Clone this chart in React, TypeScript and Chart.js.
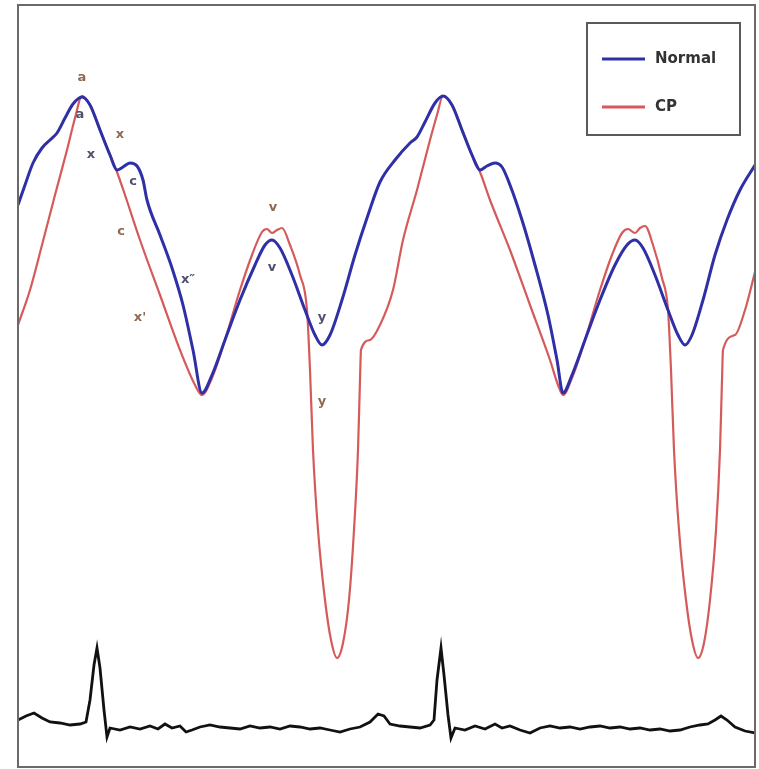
import React, { useEffect, useRef } from "react";
import { Chart, registerables } from "chart.js";

Chart.register(...registerables);

// Time axis (arbitrary units across two cardiac cycles) and pressure-like amplitude
const normalTime = [0,7,15,24,32,39,47,55,64,72,82,92,99,105,112,119,125,129,142,154,165,175,184,194,207,222,237,247,254,262,274,287,297,304,312,324,337,350,362,377,392,399,407,417,425,434,444,454,462,469,477,484,492,504,517,530,539,545,554,567,582,597,609,617,625,637,650,660,667,674,685,697,709,722,737];
const normalValues = [562,582,604,619,627,634,649,663,670,662,637,612,597,600,604,601,587,567,532,499,462,417,374,392,427,467,502,522,527,519,492,457,432,422,432,467,512,552,585,607,624,630,645,664,671,662,637,612,597,601,604,600,582,547,502,452,407,374,392,427,467,502,522,527,519,492,457,432,422,432,467,512,547,577,602];

const cpTime = [0,12,24,37,49,57,64,72,82,92,99,107,122,142,162,177,184,194,207,222,234,244,249,254,259,264,272,282,289,292,295,300,307,313,319,325,331,336,340,342,343,352,362,375,385,399,412,419,425,434,444,454,462,472,492,512,532,540,545,554,567,582,594,604,610,617,622,627,635,644,650,653,656,661,668,674,680,686,692,698,702,704,705,717,727,737];
const cpValues = [442,477,522,572,617,649,671,662,637,612,595,572,527,472,417,382,372,389,427,477,512,535,538,534,537,539,522,492,457,397,317,237,167,127,109,124,167,237,317,387,417,427,442,477,527,577,627,652,671,662,637,612,595,567,517,462,407,382,372,389,427,477,512,534,538,534,539,541,522,489,457,397,317,237,167,127,109,124,167,237,317,387,417,432,457,495];

const ecgTime = [0,8,16,24,32,42,52,62,68,72,76,79,82,86,89,92,102,112,122,132,140,147,154,162,168,174,182,192,202,212,222,232,242,252,262,272,282,292,302,312,322,332,342,352,360,366,372,382,392,402,412,416,419,423,426,430,433,437,447,457,467,477,484,492,502,512,522,532,542,552,562,572,582,592,602,612,622,632,642,652,662,672,682,690,697,703,709,717,727,737];
const ecgValues = [47,51,54,49,45,44,42,43,45,67,102,119,99,57,30,39,37,40,38,41,38,43,39,41,35,37,40,42,40,39,38,41,39,40,38,41,40,38,39,37,35,38,40,45,53,51,43,41,40,39,42,47,87,119,92,52,29,39,37,41,38,43,39,41,37,34,39,41,39,40,38,40,41,39,40,38,39,37,38,36,37,40,42,43,47,51,47,40,36,34];

const labelTexts = ["a","a","x","x","c","c","x\u2033","x'","v","v","y","y"];
const labelTime = [64,62,73,102,115,103,170,122,255,254,304,304];
const labelValues = [689,652,612,632,585,535,487,449,559,499,449,365];
const labelSeries = ["CP","Normal","Normal","CP","Normal","CP","Normal","CP","CP","Normal","Normal","CP"];

const seriesNames = ["Normal", "CP"];
const seriesColors = ["#2f2fa6", "#d55a5a"];

const zip = (xs: number[], ys: number[]) => xs.map((x, i) => ({ x, y: ys[i] }));

const framePlugin = {
  id: "framePlugin",
  afterDraw(chart: any) {
    const { ctx, chartArea } = chart;
    const xs = chart.scales.x;
    const ys = chart.scales.y;
    ctx.save();
    ctx.font = "bold 13px 'DejaVu Sans', sans-serif";
    ctx.textAlign = "center";
    ctx.textBaseline = "middle";
    labelTexts.forEach((t, i) => {
      ctx.fillStyle = labelSeries[i] === "CP" ? "#8f6a52" : "#505070";
      ctx.fillText(t, xs.getPixelForValue(labelTime[i]), ys.getPixelForValue(labelValues[i]));
    });
    ctx.strokeStyle = "#6a6a6a";
    ctx.lineWidth = 2;
    ctx.strokeRect(chartArea.left, chartArea.top, chartArea.right - chartArea.left, chartArea.bottom - chartArea.top);
    const bx = chartArea.right - 168;
    const by = chartArea.top + 18;
    const bw = 153;
    const bh = 112;
    ctx.fillStyle = "#ffffff";
    ctx.fillRect(bx, by, bw, bh);
    ctx.strokeStyle = "#5a5a5a";
    ctx.lineWidth = 2;
    ctx.strokeRect(bx, by, bw, bh);
    ctx.font = "bold 15px 'DejaVu Sans', sans-serif";
    ctx.textAlign = "left";
    seriesNames.forEach((name, i) => {
      const ly = by + 36 + i * 48;
      ctx.strokeStyle = seriesColors[i];
      ctx.lineWidth = 3;
      ctx.beginPath();
      ctx.moveTo(bx + 15, ly);
      ctx.lineTo(bx + 58, ly);
      ctx.stroke();
      ctx.fillStyle = "#333333";
      ctx.fillText(name, bx + 68, ly);
    });
    ctx.restore();
  },
};

export default function App() {
  const ref = useRef<HTMLCanvasElement | null>(null);
  useEffect(() => {
    document.body.style.margin = "0";
    if (!ref.current) return;
    const chart = new Chart(ref.current, {
      type: "line",
      data: {
        datasets: [
          {
            label: seriesNames[0],
            data: zip(normalTime, normalValues),
            borderColor: seriesColors[0],
            borderWidth: 3,
            pointRadius: 0,
            cubicInterpolationMode: "monotone",
            order: 1,
          },
          {
            label: seriesNames[1],
            data: zip(cpTime, cpValues),
            borderColor: seriesColors[1],
            borderWidth: 2.2,
            pointRadius: 0,
            cubicInterpolationMode: "monotone",
            order: 2,
          },
          {
            label: "ECG",
            data: zip(ecgTime, ecgValues),
            borderColor: "#111111",
            borderWidth: 2.8,
            pointRadius: 0,
            tension: 0,
            order: 3,
          },
        ],
      },
      options: {
        responsive: false,
        animation: false,
        layout: { padding: { left: 18, top: 5, right: 4, bottom: 2 } },
        plugins: { legend: { display: false }, tooltip: { enabled: false } },
        scales: {
          x: { type: "linear", min: 0, max: 737, display: false },
          y: { type: "linear", min: 0, max: 762, display: false },
        },
      },
      plugins: [framePlugin],
    } as any);
    return () => chart.destroy();
  }, []);
  return (
    <div style={{ width: 759, height: 769 }}>
      <canvas ref={ref} width={759} height={769} />
    </div>
  );
}
